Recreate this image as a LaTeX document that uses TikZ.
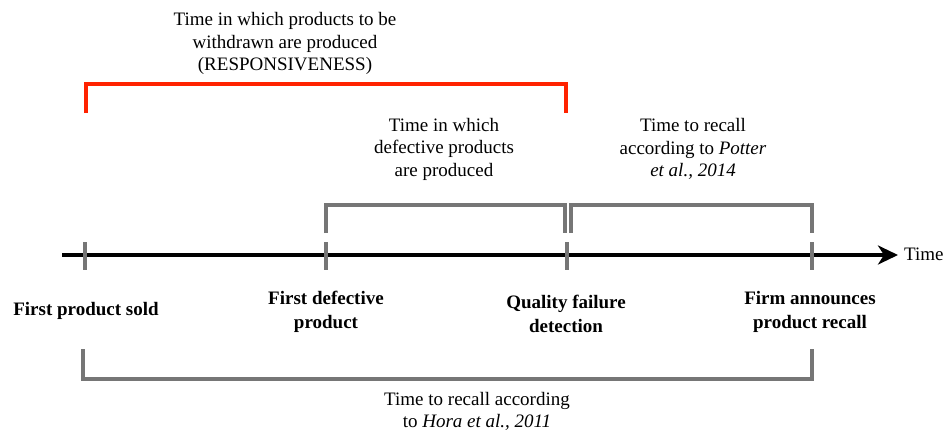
\documentclass[tikz,border=0pt]{standalone}
\usepackage{fontspec}
\setmainfont{Liberation Serif}
\usetikzlibrary{arrows.meta}
\definecolor{brgray}{HTML}{767676}
\definecolor{brred}{HTML}{FF2200}
\begin{document}
\begin{tikzpicture}[x=1pt,y=-1pt,
  lbl/.style={align=center,font=\fontsize{19}{22.5}\selectfont,inner sep=0pt},
  blbl/.style={align=center,font=\fontsize{19}{24}\selectfont\bfseries,inner sep=0pt},
  tick/.style={draw=brgray,line width=3.5pt},
  gbr/.style={draw=brgray,line width=3.2pt},
  rbr/.style={draw=brred,line width=3.3pt},
  axis/.style={draw=black,line width=3.5pt,-{Stealth[length=20pt,width=19pt,inset=6pt]}}]
\useasboundingbox (0,0) rectangle (946,434);
% axis
\coordinate (a0) at (62,255);
\coordinate (a1) at (898,255);
\draw[axis] (a0) -- (a1);
\node[lbl,anchor=west] (time) at (904,254) {Time};
% ticks
\foreach \x/\n in {85/t1,326/t2,567/t3,812/t4}{
  \coordinate (\n top) at (\x,242);
  \coordinate (\n bot) at (\x,270);
  \draw[tick] (\n top) -- (\n bot);
}
% red bracket
\coordinate (r1) at (86,113);
\coordinate (r2) at (566,113);
\draw[rbr] (r1) -- (86,84) -- (566,84) -- (r2);
% grey upper brackets
\coordinate (g1) at (326,233);
\coordinate (g2) at (565,233);
\draw[gbr] (g1) -- (326,205) -- (565,205) -- (g2);
\coordinate (g3) at (571,233);
\coordinate (g4) at (812,233);
\draw[gbr] (g3) -- (571,205) -- (812,205) -- (g4);
% bottom bracket
\coordinate (b1) at (83,349);
\coordinate (b2) at (812,349);
\draw[gbr] (b1) -- (83,379) -- (812,379) -- (b2);
% texts
\node[lbl] (resp) at (285,43.5) {Time in which products to be\\withdrawn are produced\\(RESPONSIVENESS)};
\node[lbl] (def) at (444,149) {Time in which\\defective products\\are produced};
\node[lbl] (pot) at (693,149) {Time to recall\\according to \textit{Potter}\\\textit{et al., 2014}};
\node[blbl] (fps) at (86,311) {First product sold};
\node[blbl] (fdp) at (326,312) {First defective\\product};
\node[blbl] (qfd) at (566,314) {Quality failure\\detection};
\node[blbl] (fapr) at (810,312) {Firm announces\\product recall};
\node[lbl] (hora) at (477,411.5) {Time to recall according\\to \textit{Hora et al., 2011}};
\end{tikzpicture}
\end{document}
